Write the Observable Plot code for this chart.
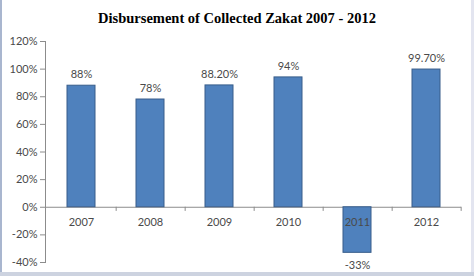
<!DOCTYPE html>
<html>
<head>
<meta charset="utf-8">
<script src="https://cdn.jsdelivr.net/npm/d3@7"></script>
<script src="https://cdn.jsdelivr.net/npm/@observablehq/plot@0.6"></script>
<style>
  html, body { margin: 0; padding: 0; background: #fff; }
  #wrap { position: relative; width: 474px; height: 276px; overflow: hidden; background: #fff; }
  #title { position: absolute; left: 0; top: 0; width: 474px; height: 32px; text-align: center;
           font-family: "Liberation Serif", "Times New Roman", serif; font-weight: bold; font-size: 14.5px;
           line-height: 32px; color: #000; padding-top: 2px; box-sizing: border-box; }
  #chart { position: absolute; left: 0; top: 32px; }
  #bl { position: absolute; left: 0; top: 0; width: 2px; height: 276px; background: #a9b6cf; }
  #br { position: absolute; right: 0; top: 0; width: 3px; height: 276px; background: #e3e5f0; }
  #bb { position: absolute; left: 0; bottom: 0; width: 474px; height: 4px; background: #cdd3e0; }
</style>
</head>
<body>
<div id="wrap">
  <div id="title">Disbursement of Collected Zakat 2007 - 2012</div>
  <div id="chart"></div>
  <div id="bl"></div><div id="br"></div><div id="bb"></div>
</div>
<script>
const years = ["2007", "2008", "2009", "2010", "2011", "2012"];
const values = [88, 78, 88.2, 94, -33, 99.7];
const labels = ["88%", "78%", "88.20%", "94%", "-33%", "99.70%"];
const yTicks = [120, 100, 80, 60, 40, 20, 0, -20, -40];

const data = years.map((y, i) => ({year: y, value: values[i], label: labels[i]}));
const font = "Lato, 'Open Sans', sans-serif";
const step = (474 - 45 - 13) / years.length;

const chart = Plot.plot({
  width: 474,
  height: 244,
  marginTop: 9,
  marginBottom: 14,
  marginLeft: 45,
  marginRight: 13,
  style: {fontFamily: font, fontSize: "11px", color: "#404040", background: "transparent"},
  x: {domain: years, padding: 0.6, paddingOuter: 0.3, axis: null},
  y: {domain: [-40, 120], axis: null},
  marks: [
    Plot.ruleY([0], {stroke: "#8c8c8c"}),
    Plot.ruleX(years, {x: d => d, dx: step / 2, y1: 0, y2: -3, stroke: "#8c8c8c"}),
    Plot.axisY(yTicks, {anchor: "left", tickSize: 5, tickPadding: 3, tickFormat: d => d + "%",
      stroke: "#8c8c8c", fill: "#4a4a4a", fontSize: 11, fontFamily: font, label: null}),
    Plot.frame({anchor: "left", stroke: "#8c8c8c"}),
    Plot.barY(data, {x: "year", y: "value", fill: "#4f81bd", stroke: "#385d8a", strokeWidth: 1}),
    Plot.text(data, {x: "year", y: 0, text: "year", dy: 15, fill: "#4a4a4a", fontSize: 11, fontFamily: font}),
    Plot.text(data.filter(d => d.value >= 0), {x: "year", y: "value", text: "label", dy: -11,
      fill: "#4a4a4a", fontSize: 11, fontFamily: font}),
    Plot.text(data.filter(d => d.value < 0), {x: "year", y: "value", text: "label", dy: 13,
      fill: "#4a4a4a", fontSize: 11, fontFamily: font})
  ]
});
document.getElementById("chart").appendChild(chart);
</script>
</body>
</html>
